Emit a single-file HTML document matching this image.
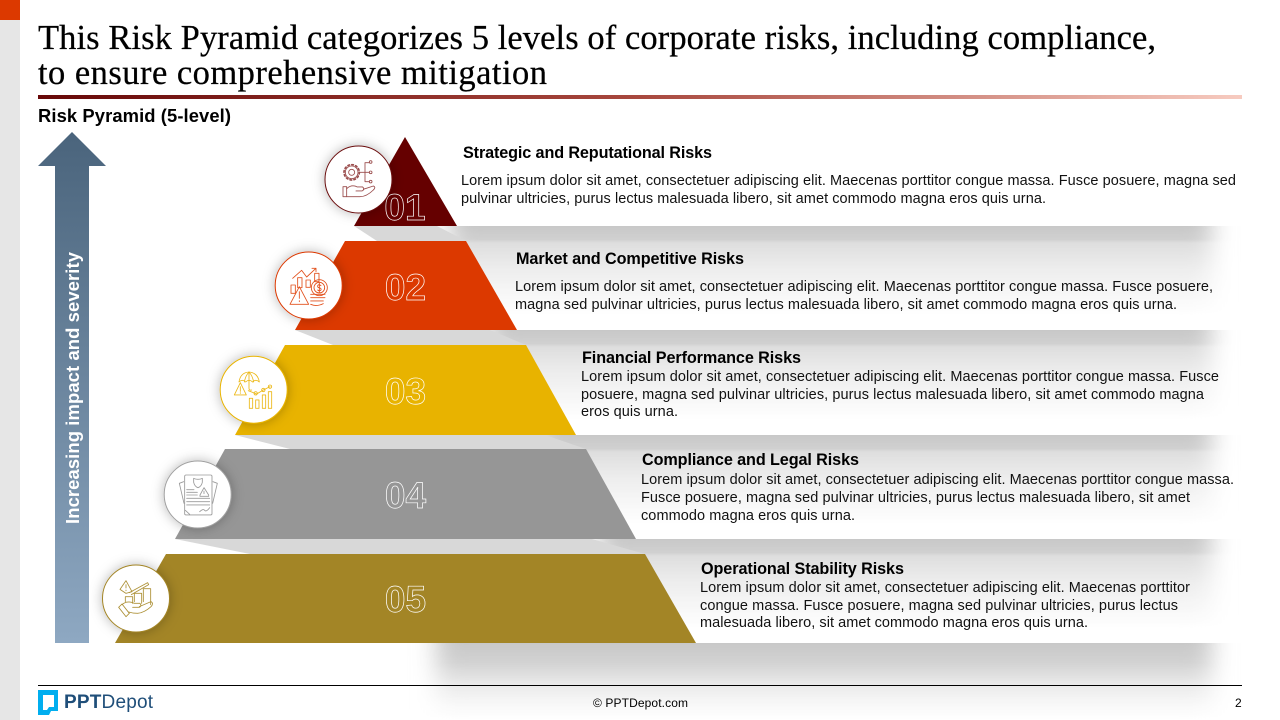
<!DOCTYPE html>
<html lang="en">
<head>
<meta charset="utf-8">
<title>Risk Pyramid</title>
<style>
html,body{margin:0;padding:0;background:#fff;width:1280px;height:720px;overflow:hidden}
svg{display:block}
text{font-family:"Liberation Sans",Arial,sans-serif;fill:#000}
.body{font-size:14.5px;fill:#111}
.head{font-size:16.2px;font-weight:bold;fill:#000}
.num{font-size:37px;font-weight:bold;fill:none;stroke:#fff;stroke-width:.7;text-anchor:middle}
.ttl{font-family:"Liberation Serif",serif;font-size:34.5px;fill:#000;stroke:#000;stroke-width:.25}
.ic{fill:none;stroke-width:2.6;stroke-linecap:round;stroke-linejoin:round}
</style>
</head>
<body>
<svg width="1280" height="720" viewBox="0 0 1280 720" xmlns="http://www.w3.org/2000/svg">
<defs>
<linearGradient id="ruleGrad" x1="0" x2="1" y1="0" y2="0"><stop offset="0" stop-color="#670808"/><stop offset=".5" stop-color="#a8483e"/><stop offset="1" stop-color="#f7cbc0"/></linearGradient>
<linearGradient id="arrowGrad" x1="0" x2="0" y1="0" y2="1"><stop offset="0" stop-color="#4a647c"/><stop offset="1" stop-color="#8ea8c2"/></linearGradient>
<linearGradient id="shadowGrad" x1="0" x2="0" y1="0" y2="1"><stop offset="0" stop-color="#c8c8c8"/><stop offset=".15" stop-color="#d0d0d0"/><stop offset=".19" stop-color="#dedede"/><stop offset=".5" stop-color="#eeeeee"/><stop offset=".85" stop-color="#fafafa"/><stop offset="1" stop-color="#ffffff"/></linearGradient>
<linearGradient id="shadowGradLast" x1="0" x2="0" y1="0" y2="1"><stop offset="0" stop-color="#c8c8c8"/><stop offset=".25" stop-color="#d2d2d2"/><stop offset=".55" stop-color="#ebebeb"/><stop offset=".8" stop-color="#f8f8f8"/><stop offset="1" stop-color="#ffffff"/></linearGradient>
<filter id="hblur" filterUnits="userSpaceOnUse" x="0" y="0" width="1280" height="720"><feGaussianBlur stdDeviation="12 0"/></filter>
<filter id="cshadow" x="-40%" y="-40%" width="180%" height="180%"><feDropShadow dx="0" dy="0" stdDeviation="6" flood-color="#000" flood-opacity=".28"/></filter>
</defs>

<rect x="0" y="0" width="20" height="720" fill="#e6e6e6"/>
<rect x="0" y="0" width="20" height="20" fill="#dc3900"/>

<text class="ttl" x="38" y="49" textLength="1118" lengthAdjust="spacing">This Risk Pyramid categorizes 5 levels of corporate risks, including compliance,</text>
<text class="ttl" x="38" y="84" textLength="509" lengthAdjust="spacing">to ensure comprehensive mitigation</text>
<rect x="38" y="95" width="1204" height="4" fill="url(#ruleGrad)"/>
<text x="38" y="122" font-size="18.4" font-weight="bold" textLength="193" lengthAdjust="spacing">Risk Pyramid (5-level)</text>

<!-- soft shadows beneath each level -->
<g>
<rect x="450" y="226" width="762" height="90" fill="url(#shadowGrad)" filter="url(#hblur)"/>
<rect x="490" y="330" width="722" height="90" fill="url(#shadowGrad)" filter="url(#hblur)"/>
<rect x="540" y="435" width="672" height="90" fill="url(#shadowGrad)" filter="url(#hblur)"/>
<rect x="600" y="539" width="612" height="90" fill="url(#shadowGrad)" filter="url(#hblur)"/>
<rect x="436" y="643" width="776" height="77" fill="url(#shadowGradLast)" filter="url(#hblur)"/>
<polygon points="354,226 377,241 466,241 437,226" fill="#d8d8d8"/>
<polygon points="295,330 333,345 526,345 490,330" fill="#d8d8d8"/>
<polygon points="235,435 290,449 586,449 545,435" fill="#d8d8d8"/>
<polygon points="175,539 250,554 645,554 592,539" fill="#d8d8d8"/>
</g>

<!-- pyramid levels -->
<polygon points="405,137 354,226 457,226" fill="#650000"/>
<polygon points="345,241 466,241 517,330 295,330" fill="#dc3900"/>
<polygon points="285,345 526,345 576,435 235,435" fill="#e8b300"/>
<polygon points="225,449 586,449 636,539 175,539" fill="#969696"/>
<polygon points="166,554 645,554 696,643 115,643" fill="#a38526"/>

<text class="num" x="405" y="220">01</text>
<text class="num" x="405.500" y="300">02</text>
<text class="num" x="405.500" y="404">03</text>
<text class="num" x="405.500" y="508">04</text>
<text class="num" x="405.500" y="612">05</text>

<!-- vertical arrow -->
<polygon points="72,132 106,166 89,166 89,643 55,643 55,166 38,166" fill="url(#arrowGrad)"/>
<text transform="translate(79 388) rotate(-90)" text-anchor="middle" font-size="18.4" font-weight="bold" style="fill:#fff" textLength="272" lengthAdjust="spacing">Increasing impact and severity</text>

<!-- icon circles -->
<circle cx="358.500" cy="179.500" r="33.500" fill="#fff" stroke="#6b1010" stroke-width="1" filter="url(#cshadow)"/>
<g class="ic" stroke="#9a4c4c" transform="translate(320 140) scale(.3333)">
<circle cx="95" cy="97" r="23" stroke-width="5" stroke-dasharray="5 7"/><circle cx="95" cy="97" r="19"/><circle cx="95" cy="97" r="9"/>
<path d="M118 97H148M135 97V68H148M135 97V125H148"/><circle cx="152" cy="66" r="4"/><circle cx="152" cy="97" r="4"/><circle cx="152" cy="125" r="4"/>
<rect x="69" y="140" width="11" height="30"/><path d="M80 146Q95 132 112 141H128Q136 148 126 153H108M130 148L160 138Q169 142 160 150Q140 170 120 170H80"/>
</g>

<circle cx="308.700" cy="285.500" r="33.500" fill="#fff" stroke="#dc3900" stroke-width="1" filter="url(#cshadow)"/>
<g class="ic" stroke="#e2501c" transform="translate(270 245) scale(.3333)">
<rect x="63" y="120" width="13" height="25"/><rect x="83" y="98" width="13" height="30"/><rect x="108" y="105" width="13" height="22"/><rect x="134" y="85" width="13" height="25"/>
<path d="M68 100L95 76L110 96L138 70M126 70H138V80"/>
<path d="M88 125L116 178H60Z"/><path d="M88 140V160M88 167V170"/>
<circle cx="148" cy="128" r="24"/><circle cx="148" cy="128" r="16"/><path d="M153 122Q146 116 143 122Q142 128 148 128Q155 130 153 135Q149 140 143 135M148 114V142"/>
<path d="M122 148H165M122 158H165M122 168H160M122 178Q140 186 160 176"/>
</g>

<circle cx="253.700" cy="389.700" r="33.500" fill="#fff" stroke="#e8b300" stroke-width="1" filter="url(#cshadow)"/>
<g class="ic" stroke="#ecb91a" transform="translate(215 350) scale(.3333)">
<path d="M72 96Q76 68 102 66Q128 68 133 96Q122 86 113 96Q102 86 92 96Q82 86 72 96Z"/><path d="M102 66V115Q102 122 110 120M88 96Q92 76 102 66Q112 76 116 96"/>
<path d="M76 98L94 135H58Z"/><path d="M76 110V124M76 128V130"/>
<path d="M100 122L125 132L145 120L165 110"/><circle cx="122" cy="130" r="5"/><circle cx="145" cy="120" r="5"/><circle cx="165" cy="110" r="5"/>
<rect x="103" y="145" width="10" height="30"/><rect x="122" y="150" width="10" height="25"/><rect x="142" y="135" width="10" height="40"/><rect x="160" y="125" width="10" height="50"/>
</g>

<circle cx="197.700" cy="494.500" r="33.500" fill="#fff" stroke="#a0a0a0" stroke-width="1" filter="url(#cshadow)"/>
<g class="ic" stroke="#9a9a9a" transform="translate(158 455) scale(.3333)">
<rect x="80" y="60" width="82" height="120" rx="4"/><path d="M77 80L64 85L78 145M165 80L178 85L164 145"/>
<path d="M107 70Q120 76 133 70V82Q130 95 120 98Q110 95 107 82Z"/>
<path d="M126 120L138 98L152 120V124H126Z"/><path d="M138 108V116"/>
<path d="M86 104H108M86 112H118M86 120H118M86 130H155M86 140H155M86 150H155"/>
<path d="M125 170Q135 160 140 166T155 158M82 166L95 178"/>
</g>

<circle cx="136" cy="598.500" r="33.500" fill="#fff" stroke="#a38526" stroke-width="1" filter="url(#cshadow)"/>
<g class="ic" stroke="#ad9137" transform="translate(96 560) scale(.3333)">
<path d="M90 62L108 95L90 100L72 88Z"/><path d="M90 74V84M90 90V92"/>
<path d="M100 98L155 68L158 74L106 104"/>
<path d="M88 125V110H110V130M115 125V100H137V130M142 125V86H164V134"/>
<path d="M68 142L78 132L100 160L90 170ZM78 134Q95 120 115 130H132Q138 138 130 142H110M130 140L165 125Q174 130 165 140Q145 158 125 160Q110 160 98 156"/>
</g>

<!-- level 1 text -->
<g>
<text class="head" x="463" y="158" textLength="249" lengthAdjust="spacing">Strategic and Reputational Risks</text>
<text class="body" x="461" y="185" textLength="775" lengthAdjust="spacing">Lorem ipsum dolor sit amet, consectetuer adipiscing elit. Maecenas porttitor congue massa. Fusce posuere, magna sed</text>
<text class="body" x="461" y="203" textLength="585" lengthAdjust="spacing">pulvinar ultricies, purus lectus malesuada libero, sit amet commodo magna eros quis urna.</text>
</g>
<!-- level 2 text -->
<g>
<text class="head" x="516" y="264" textLength="228" lengthAdjust="spacing">Market and Competitive Risks</text>
<text class="body" x="515" y="291" textLength="698" lengthAdjust="spacing">Lorem ipsum dolor sit amet, consectetuer adipiscing elit. Maecenas porttitor congue massa. Fusce posuere,</text>
<text class="body" x="515" y="309" textLength="662" lengthAdjust="spacing">magna sed pulvinar ultricies, purus lectus malesuada libero, sit amet commodo magna eros quis urna.</text>
</g>
<!-- level 3 text -->
<g>
<text class="head" x="582" y="363" textLength="219" lengthAdjust="spacing">Financial Performance Risks</text>
<text class="body" x="581" y="381" textLength="638" lengthAdjust="spacing">Lorem ipsum dolor sit amet, consectetuer adipiscing elit. Maecenas porttitor congue massa. Fusce</text>
<text class="body" x="581" y="399" textLength="623" lengthAdjust="spacing">posuere, magna sed pulvinar ultricies, purus lectus malesuada libero, sit amet commodo magna</text>
<text class="body" x="581" y="416" textLength="97" lengthAdjust="spacing">eros quis urna.</text>
</g>
<!-- level 4 text -->
<g>
<text class="head" x="642" y="465" textLength="217" lengthAdjust="spacing">Compliance and Legal Risks</text>
<text class="body" x="641" y="484" textLength="593" lengthAdjust="spacing">Lorem ipsum dolor sit amet, consectetuer adipiscing elit. Maecenas porttitor congue massa.</text>
<text class="body" x="641" y="502" textLength="549" lengthAdjust="spacing">Fusce posuere, magna sed pulvinar ultricies, purus lectus malesuada libero, sit amet</text>
<text class="body" x="641" y="520" textLength="214" lengthAdjust="spacing">commodo magna eros quis urna.</text>
</g>
<!-- level 5 text -->
<g>
<text class="head" x="701" y="574" textLength="203" lengthAdjust="spacing">Operational Stability Risks</text>
<text class="body" x="700" y="592" textLength="490" lengthAdjust="spacing">Lorem ipsum dolor sit amet, consectetuer adipiscing elit. Maecenas porttitor</text>
<text class="body" x="700" y="610" textLength="478" lengthAdjust="spacing">congue massa. Fusce posuere, magna sed pulvinar ultricies, purus lectus</text>
<text class="body" x="700" y="627" textLength="388" lengthAdjust="spacing">malesuada libero, sit amet commodo magna eros quis urna.</text>
</g>

<!-- footer -->
<rect x="38" y="685" width="1204" height="1" fill="#000"/>
<g>
<path d="M38 690H58V711H51L49 715H38Z M43 695V710H47L49 707H54V695Z" fill="#00aeef" fill-rule="evenodd"/>
<text x="64" y="708" font-size="19" textLength="89" lengthAdjust="spacing" style="fill:#1f4e79"><tspan font-weight="bold">PPT</tspan>Depot</text>
</g>
<text x="593" y="707" font-size="12" textLength="95" lengthAdjust="spacing">© PPTDepot.com</text>
<text x="1235" y="707" font-size="12">2</text>
</svg>
</body>
</html>
